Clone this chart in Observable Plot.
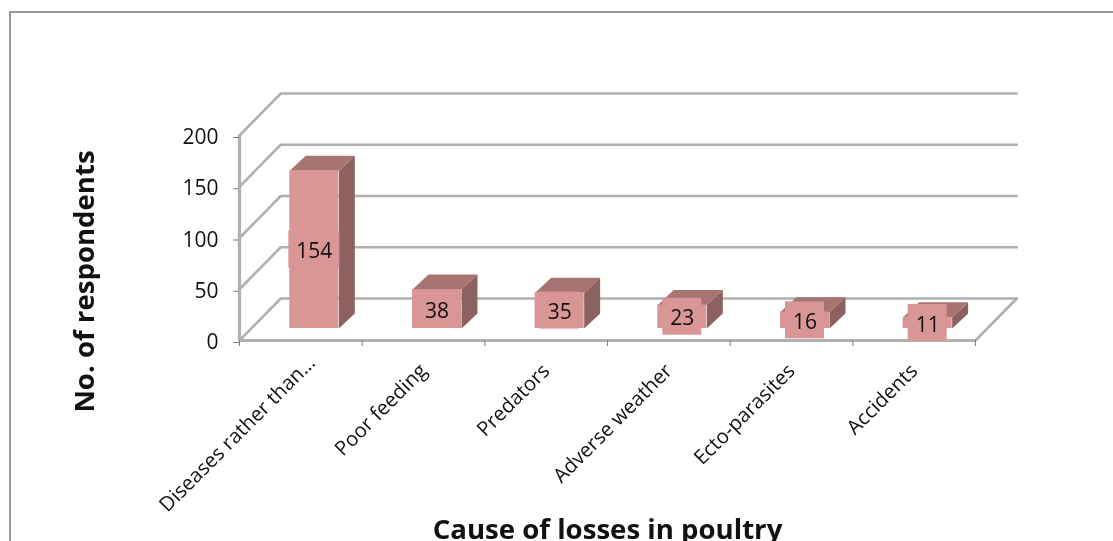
<!DOCTYPE html>
<html><head><meta charset="utf-8">
<script src="https://cdn.jsdelivr.net/npm/d3@7"></script>
<script src="https://cdn.jsdelivr.net/npm/@observablehq/plot@0.6"></script>
<style>
html,body{margin:0;padding:0;background:#fff;width:1113px;height:541px;overflow:hidden}
#wrap{position:relative;width:1113px;height:541px}
#border{position:absolute;left:9px;top:11px;right:-4px;bottom:-4px;border:2px solid #989898}
#chart{position:absolute;left:0;top:0}
svg{filter:blur(0.55px)}
</style></head><body>
<div id="wrap"><div id="border"></div><div id="chart"></div></div>
<script>
const categories = ["Diseases rather than…","Poor feeding","Predators","Adverse weather","Ecto-parasites","Accidents"];
const values = [154,38,35,23,16,11];
const gridValues = [0,50,100,150,200];
const axisTitleX = "Cause of losses in poultry";
const axisTitleY = "No. of respondents";

// oblique depth expressed in scale units
const wallDX = 0.336, wallDY = 41;
const barDX0 = 0.11, barDY0 = 11.7, barDX = 0.13, barDY = 14.6, barHalf = 0.2;
const font = "'Open Sans',sans-serif";
const gridColor = "#b0b0b0";

const bars = values.map((v,i)=>{
  const c = i + 0.5 + barDX0;
  return {cat:categories[i], i, v, x1:c-barHalf, x2:c+barHalf, y1:barDY0, y2:barDY0+v, c, ym:barDY0+v/2};
});
const poly = [];
bars.forEach((b,i)=>{
  [[b.x2,b.y1],[b.x2+barDX,b.y1+barDY],[b.x2+barDX,b.y2+barDY],[b.x2,b.y2]]
    .forEach(([x,y])=>poly.push({id:"s"+i,face:"side",x,y}));
  [[b.x1,b.y2],[b.x2,b.y2],[b.x2+barDX,b.y2+barDY],[b.x1+barDX,b.y2+barDY]]
    .forEach(([x,y])=>poly.push({id:"t"+i,face:"top",x,y}));
});
const n = categories.length;
const lines = [];
gridValues.forEach(g=>{
  lines.push({id:"w"+g,x:0,y:g},{id:"w"+g,x:wallDX,y:g+wallDY},{id:"w"+g,x:n+wallDX,y:g+wallDY});
});
lines.push({id:"floor",x:n,y:0},{id:"floor",x:n+wallDX,y:wallDY});

const chart = Plot.plot({
  width:1113, height:541,
  marginLeft:239, marginRight:138, marginTop:135, marginBottom:201,
  x:{type:"linear",domain:[0,n],axis:null},
  y:{type:"linear",domain:[0,200],axis:null},
  style:{background:"transparent",fontFamily:font},
  marks:[
    Plot.line(lines,{x:"x",y:"y",z:"id",stroke:gridColor,strokeWidth:2.6}),
    Plot.ruleY([0],{stroke:gridColor,strokeWidth:3.2}),
    Plot.ruleX([0],{stroke:gridColor,strokeWidth:3.2}),
    Plot.axisX({ticks:d3.range(n+1),tickFormat:()=>"",tickSize:6,stroke:"#808080",label:null}),
    Plot.axisY({ticks:gridValues,tickSize:6,tickPadding:15,stroke:"#808080",fill:"#111",fontSize:21,dy:2,label:null}),
    Plot.line(poly.filter(d=>d.face==="side"),{x:"x",y:"y",z:"id",fill:"#8c6160",stroke:"none",curve:"linear-closed"}),
    Plot.line(poly.filter(d=>d.face==="top"),{x:"x",y:"y",z:"id",fill:"#a87472",stroke:"none",curve:"linear-closed"}),
    Plot.rect(bars,{x1:"x1",x2:"x2",y1:"y1",y2:"y2",fill:"#d99694"}),
    Plot.rect(bars.filter(d=>d.v>=100),{x1:"c",x2:"c",y1:"ym",y2:"ym",insetLeft:-25.5,insetRight:-25.5,insetTop:-18.5,insetBottom:-18.5,fill:"#d99694"}),
    Plot.rect(bars.filter(d=>d.v<100),{x1:"c",x2:"c",y1:"ym",y2:"ym",insetLeft:-19.5,insetRight:-19.5,insetTop:-18.5,insetBottom:-18.5,fill:"#d99694"}),
    Plot.text(bars,{x:"c",y:"ym",text:d=>String(d.v),fontSize:21,fill:"#111",dy:2}),
    Plot.text(bars.filter(d=>d.i===0),{x:d=>d.i+0.5,y:0,text:"cat",rotate:-45,textAnchor:"end",fontSize:20.2,fill:"#111",dx:11,dy:19}),
    Plot.text(bars.filter(d=>d.i>0),{x:d=>d.i+0.5,y:0,text:"cat",rotate:-45,textAnchor:"end",fontSize:20.2,fill:"#111",dx:0,dy:27}),
    Plot.text([axisTitleX],{x:[3],y:[-185],text:d=>d,fontSize:27.6,fontWeight:700,fill:"#111"}),
    Plot.text([axisTitleY],{x:[-1.26],y:[57.6],text:d=>d,rotate:-90,fontSize:27.6,fontWeight:700,fill:"#111"})
  ]
});
document.getElementById("chart").append(chart);
</script>
</body></html>
